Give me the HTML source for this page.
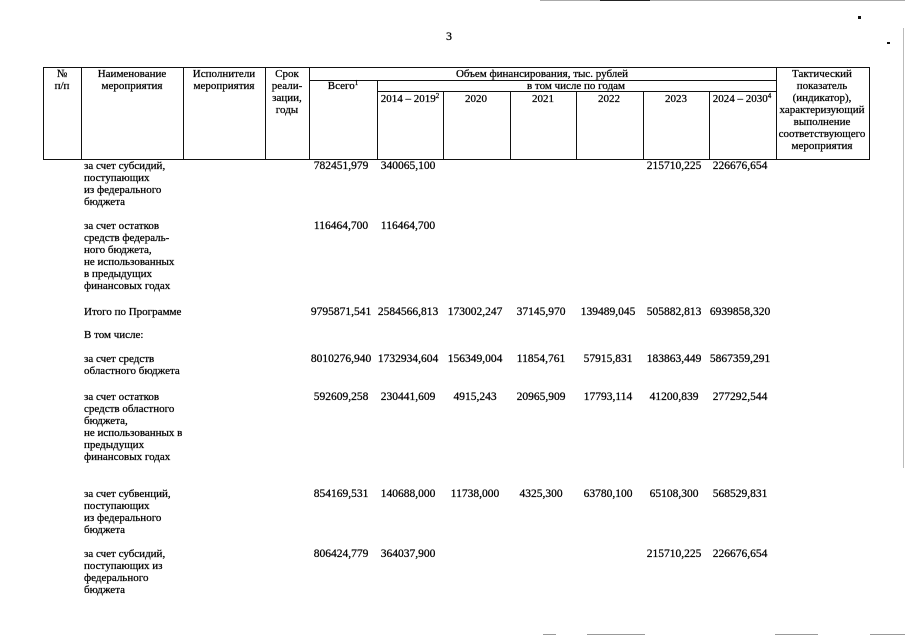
<!DOCTYPE html>
<html><head><meta charset="utf-8">
<style>
html,body{margin:0;padding:0;background:#fff;}
body{width:905px;height:640px;position:relative;overflow:hidden;font-family:"Liberation Serif","Noto Serif CJK SC",serif;color:#000;}
.t,.c,.n{-webkit-text-stroke:0.25px #000;}
.t{position:absolute;font-size:11px;line-height:12px;white-space:nowrap;}
.c{position:absolute;font-size:11px;line-height:12px;white-space:nowrap;text-align:center;width:200px;}
.n{position:absolute;font-size:11.5px;line-height:12px;white-space:nowrap;text-align:center;width:100px;}
.h{position:absolute;background:#111;height:1px;}
.v{position:absolute;background:#111;width:1px;}
sup{font-size:7px;line-height:0;vertical-align:4px;}
</style></head><body>

<div class="t" style="left:446px;top:30px;font-size:12px;">3</div>

<div style="position:absolute;left:540px;top:0;width:365px;height:1px;background:#aaa;"></div>
<div style="position:absolute;left:600px;top:0;width:50px;height:1px;background:#222;"></div>
<div style="position:absolute;left:903px;top:28px;width:1px;height:440px;background:#bbb;"></div>
<div style="position:absolute;left:858px;top:16px;width:3px;height:3px;background:#111;"></div>
<div style="position:absolute;left:887px;top:42px;width:3px;height:2px;background:#111;"></div>
<div style="position:absolute;left:543px;top:634px;width:13px;height:1px;background:#999;"></div>
<div style="position:absolute;left:587px;top:634px;width:58px;height:1px;background:#999;"></div>
<div style="position:absolute;left:775px;top:634px;width:43px;height:1px;background:#999;"></div>
<div style="position:absolute;left:870px;top:634px;width:35px;height:1px;background:#999;"></div>

<div class="h" style="left:43px;top:67px;width:827px;"></div>
<div class="h" style="left:43px;top:159px;width:827px;"></div>
<div class="h" style="left:309px;top:80px;width:467px;"></div>
<div class="h" style="left:377px;top:91px;width:399px;"></div>

<div class="v" style="left:43px;top:67px;height:93px;"></div>
<div class="v" style="left:81px;top:67px;height:93px;"></div>
<div class="v" style="left:183px;top:67px;height:93px;"></div>
<div class="v" style="left:265px;top:67px;height:93px;"></div>
<div class="v" style="left:309px;top:67px;height:93px;"></div>
<div class="v" style="left:377px;top:80px;height:80px;"></div>
<div class="v" style="left:443px;top:91px;height:69px;"></div>
<div class="v" style="left:510px;top:91px;height:69px;"></div>
<div class="v" style="left:576px;top:91px;height:69px;"></div>
<div class="v" style="left:643px;top:91px;height:69px;"></div>
<div class="v" style="left:709px;top:91px;height:69px;"></div>
<div class="v" style="left:776px;top:67px;height:93px;"></div>
<div class="v" style="left:869px;top:67px;height:93px;"></div>

<div class="c" style="left:-38px;top:68px;">№<br>п/п</div>
<div class="c" style="left:32px;top:68px;">Наименование<br>мероприятия</div>
<div class="c" style="left:124px;top:68px;">Исполнители<br>мероприятия</div>
<div class="c" style="left:187px;top:68px;">Срок<br>реали-<br>зации,<br>годы</div>
<div class="c" style="left:442px;top:68px;">Объем финансирования, тыс. рублей</div>
<div class="c" style="left:243px;top:80px;">Всего<sup>1</sup></div>
<div class="c" style="left:476px;top:80px;">в том числе по годам</div>
<div class="c" style="left:310px;top:93px;">2014 – 2019<sup>2</sup></div>
<div class="c" style="left:376px;top:93px;">2020</div>
<div class="c" style="left:443px;top:93px;">2021</div>
<div class="c" style="left:509px;top:93px;">2022</div>
<div class="c" style="left:576px;top:93px;">2023</div>
<div class="c" style="left:642px;top:93px;">2024 – 2030<sup>4</sup></div>
<div class="c" style="left:722px;top:68px;">Тактический<br>показатель<br>(индикатор),<br>характеризующий<br>выполнение<br>соответствующего<br>мероприятия</div>

<div class="t" style="left:84px;top:160px;">за счет субсидий,<br>поступающих<br>из федерального<br>бюджета</div>
<div class="t" style="left:84px;top:220px;">за счет остатков<br>средств федераль-<br>ного бюджета,<br>не использованных<br>в предыдущих<br>финансовых годах</div>
<div class="t" style="left:84px;top:306px;">Итого по Программе</div>
<div class="t" style="left:84px;top:329px;">В том числе:</div>
<div class="t" style="left:84px;top:353px;">за счет средств<br>областного бюджета</div>
<div class="t" style="left:84px;top:391px;">за счет остатков<br>средств областного<br>бюджета,<br>не использованных в<br>предыдущих<br>финансовых годах</div>
<div class="t" style="left:84px;top:488px;">за счет субвенций,<br>поступающих<br>из федерального<br>бюджета</div>
<div class="t" style="left:84px;top:548px;">за счет субсидий,<br>поступающих из<br>федерального<br>бюджета</div>

<div class="n" style="left:291px;top:160px;">782451,979</div>
<div class="n" style="left:358px;top:160px;">340065,100</div>
<div class="n" style="left:624px;top:160px;">215710,225</div>
<div class="n" style="left:690px;top:160px;">226676,654</div>

<div class="n" style="left:291px;top:220px;">116464,700</div>
<div class="n" style="left:358px;top:220px;">116464,700</div>

<div class="n" style="left:291px;top:306px;">9795871,541</div>
<div class="n" style="left:358px;top:306px;">2584566,813</div>
<div class="n" style="left:425px;top:306px;">173002,247</div>
<div class="n" style="left:491px;top:306px;">37145,970</div>
<div class="n" style="left:558px;top:306px;">139489,045</div>
<div class="n" style="left:624px;top:306px;">505882,813</div>
<div class="n" style="left:690px;top:306px;">6939858,320</div>

<div class="n" style="left:291px;top:353px;">8010276,940</div>
<div class="n" style="left:358px;top:353px;">1732934,604</div>
<div class="n" style="left:425px;top:353px;">156349,004</div>
<div class="n" style="left:491px;top:353px;">11854,761</div>
<div class="n" style="left:558px;top:353px;">57915,831</div>
<div class="n" style="left:624px;top:353px;">183863,449</div>
<div class="n" style="left:690px;top:353px;">5867359,291</div>

<div class="n" style="left:291px;top:391px;">592609,258</div>
<div class="n" style="left:358px;top:391px;">230441,609</div>
<div class="n" style="left:425px;top:391px;">4915,243</div>
<div class="n" style="left:491px;top:391px;">20965,909</div>
<div class="n" style="left:558px;top:391px;">17793,114</div>
<div class="n" style="left:624px;top:391px;">41200,839</div>
<div class="n" style="left:690px;top:391px;">277292,544</div>

<div class="n" style="left:291px;top:488px;">854169,531</div>
<div class="n" style="left:358px;top:488px;">140688,000</div>
<div class="n" style="left:425px;top:488px;">11738,000</div>
<div class="n" style="left:491px;top:488px;">4325,300</div>
<div class="n" style="left:558px;top:488px;">63780,100</div>
<div class="n" style="left:624px;top:488px;">65108,300</div>
<div class="n" style="left:690px;top:488px;">568529,831</div>

<div class="n" style="left:291px;top:548px;">806424,779</div>
<div class="n" style="left:358px;top:548px;">364037,900</div>
<div class="n" style="left:624px;top:548px;">215710,225</div>
<div class="n" style="left:690px;top:548px;">226676,654</div>

</body></html>
